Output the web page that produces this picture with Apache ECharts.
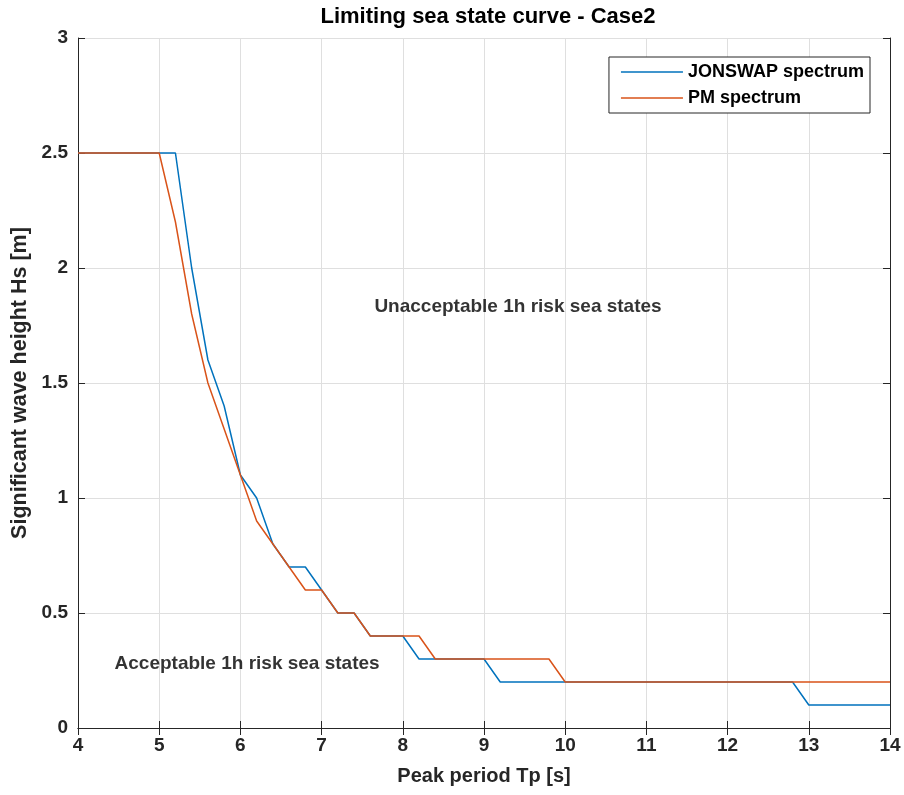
<!DOCTYPE html>
<html>
<head>
<meta charset="utf-8">
<script src="https://cdn.jsdelivr.net/npm/echarts@6/dist/echarts.min.js"></script>
<style>
html,body{margin:0;padding:0;background:#fff;}
#chart{width:904px;height:795px;}
</style>
</head>
<body>
<div id="chart"></div>
<script>
// Peak period Tp [s]
const tp = [4.0,4.2,4.4,4.6,4.8,5.0,5.2,5.4,5.6,5.8,6.0,6.2,6.4,6.6,6.8,7.0,7.2,7.4,7.6,7.8,8.0,8.2,8.4,8.6,8.8,9.0,9.2,9.4,9.6,9.8,10.0,10.2,10.4,10.6,10.8,11.0,11.2,11.4,11.6,11.8,12.0,12.2,12.4,12.6,12.8,13.0,13.2,13.4,13.6,13.8,14.0];
// Significant wave height Hs [m]
const hsJonswap = [2.5,2.5,2.5,2.5,2.5,2.5,2.5,2.0,1.6,1.4,1.1,1.0,0.8,0.7,0.7,0.6,0.5,0.5,0.4,0.4,0.4,0.3,0.3,0.3,0.3,0.3,0.2,0.2,0.2,0.2,0.2,0.2,0.2,0.2,0.2,0.2,0.2,0.2,0.2,0.2,0.2,0.2,0.2,0.2,0.2,0.1,0.1,0.1,0.1,0.1,0.1];
const hsPM      = [2.5,2.5,2.5,2.5,2.5,2.5,2.2,1.8,1.5,1.3,1.1,0.9,0.8,0.7,0.6,0.6,0.5,0.5,0.4,0.4,0.4,0.4,0.3,0.3,0.3,0.3,0.3,0.3,0.3,0.3,0.2,0.2,0.2,0.2,0.2,0.2,0.2,0.2,0.2,0.2,0.2,0.2,0.2,0.2,0.2,0.2,0.2,0.2,0.2,0.2,0.2];
const seriesNames = ['JONSWAP spectrum', 'PM spectrum'];
const annotations = [
  {text: 'Unacceptable 1h risk sea states', tp: 7.65, hs: 1.83},
  {text: 'Acceptable 1h risk sea states', tp: 4.45, hs: 0.28}
];
const titleText = 'Limiting sea state curve - Case2';
const xName = 'Peak period Tp [s]';
const yName = 'Significant wave height Hs [m]';

const FONT = '"Liberation Sans", Arial, Helvetica, sans-serif';
const axisColor = '#262626';
const gridColor = '#dfdfdf';

const chart = echarts.init(document.getElementById('chart'), null, {renderer: 'canvas'});

function pairs(xs, ys){ return xs.map((x,i)=>[x, ys[i]]); }

const commonHidden = {
  axisLine: {show: true, lineStyle: {color: axisColor, width: 1}},
  axisTick: {show: true, inside: true, length: 7, lineStyle: {color: axisColor}},
  axisLabel: {show: false},
  splitLine: {show: false}
};

const option = {
  backgroundColor: '#fff',
  animation: false,
  title: {
    text: titleText,
    left: 483, top: 1, textAlign: 'center',
    textStyle: {fontFamily: FONT, fontSize: 22, fontWeight: 'bold', color: '#000'}
  },
  legend: {
    data: seriesNames,
    orient: 'vertical',
    right: 34, top: 57,
    icon: 'rect',
    itemWidth: 62, itemHeight: 1.5, itemGap: 6,
    padding: [5, 6, 5, 12],
    borderColor: axisColor, borderWidth: 1,
    backgroundColor: '#fff',
    textStyle: {fontFamily: FONT, fontSize: 18, fontWeight: 'bold', color: '#000', lineHeight: 20}
  },
  grid: {left: 78, right: 14, top: 38, bottom: 67, containLabel: false},
  xAxis: [{
    type: 'value', min: 4, max: 14, interval: 1,
    name: xName, nameLocation: 'middle', nameGap: 38,
    nameTextStyle: {fontFamily: FONT, fontSize: 20, fontWeight: 'bold', color: '#262626'},
    axisLine: {show: true, onZero: false, lineStyle: {color: axisColor, width: 1}},
    axisTick: {show: true, inside: true, length: 7, lineStyle: {color: axisColor}},
    axisLabel: {fontFamily: FONT, fontSize: 19, fontWeight: 'bold', color: '#262626', margin: 8},
    splitLine: {show: true, lineStyle: {color: gridColor, width: 1}}
  }, Object.assign({type: 'value', min: 4, max: 14, interval: 1, position: 'top'}, commonHidden)],
  yAxis: [{
    type: 'value', min: 0, max: 3, interval: 0.5,
    name: yName, nameLocation: 'middle', nameGap: 43,
    nameTextStyle: {fontFamily: FONT, fontSize: 21.5, fontWeight: 'bold', color: '#262626'},
    axisLine: {show: true, onZero: false, lineStyle: {color: axisColor, width: 1}},
    axisTick: {show: true, inside: true, length: 7, lineStyle: {color: axisColor}},
    axisLabel: {fontFamily: FONT, fontSize: 19, fontWeight: 'bold', color: '#262626', margin: 10},
    splitLine: {show: true, lineStyle: {color: gridColor, width: 1}}
  }, Object.assign({type: 'value', min: 0, max: 3, interval: 0.5, position: 'right'}, commonHidden)],
  series: [
    {
      name: seriesNames[0], type: 'line', data: pairs(tp, hsJonswap),
      symbol: 'none', lineStyle: {color: '#0072BD', width: 1.5}, itemStyle: {color: '#0072BD'}, z: 3
    },
    {
      name: seriesNames[1], type: 'line', data: pairs(tp, hsPM),
      symbol: 'none', lineStyle: {color: '#D95319', width: 1.5}, itemStyle: {color: '#D95319'}, z: 4
    },
    {
      name: 'annotations', type: 'scatter', symbolSize: 0, silent: true,
      data: annotations.map(a => ({value: [a.tp, a.hs], name: a.text})),
      label: {show: true, position: 'right', distance: 0, formatter: p => p.name,
        fontFamily: FONT, fontSize: 19, fontWeight: 'bold', color: '#000'},
      z: 5
    }
  ]
};
chart.setOption(option);
</script>
</body>
</html>
